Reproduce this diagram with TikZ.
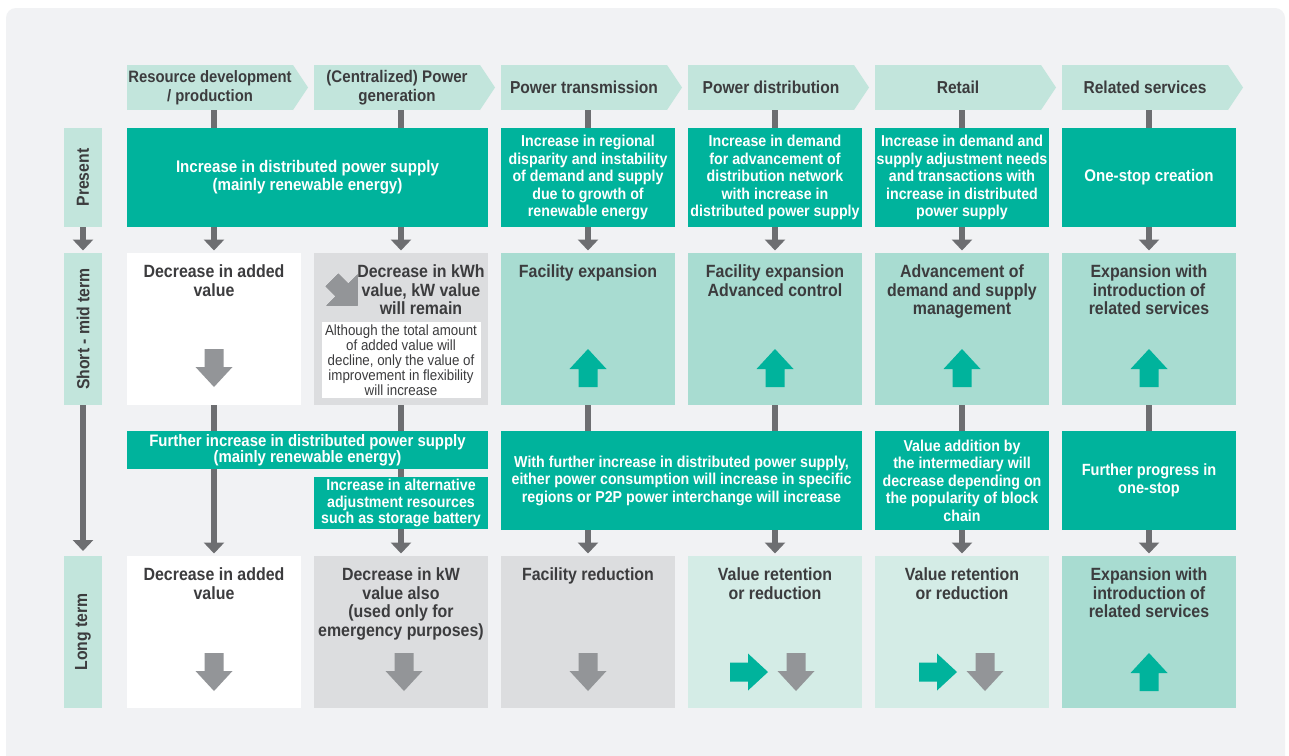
\documentclass[tikz,border=0pt]{standalone}
\usepackage{fontspec}
\usepackage{graphicx}
\setmainfont{Liberation Sans}[FakeStretch=0.9]
\usetikzlibrary{positioning,arrows.meta}

\definecolor{bggrey}{HTML}{F1F2F4}
\definecolor{mint}{HTML}{C2E5DC}
\definecolor{tealgreen}{HTML}{00B39C}
\definecolor{lightteal}{HTML}{A8DCD1}
\definecolor{paleteal}{HTML}{D4ECE6}
\definecolor{boxgrey}{HTML}{DCDDDF}
\definecolor{linkgrey}{HTML}{6D6E71}
\definecolor{arrgrey}{HTML}{939598}
\definecolor{txtdark}{HTML}{3C3C3E}

% block arrow (points down before rotation)
\newcommand{\blockarrow}[3]{%
  \fill[#1, shift={(#2)}, rotate=#3] (-9.5,-19) -- (-9.5,-1) -- (-18.5,-1) -- (0,19)
    -- (18.5,-1) -- (9.5,-1) -- (9.5,-19) -- cycle;}

\begin{document}
\begin{tikzpicture}[
    x=1pt, y=-1pt,
    node distance=13pt,
    stage/.style={rectangle, fill=mint, text=txtdark, minimum width=166pt, minimum height=45pt, inner sep=0pt, outer sep=0pt, align=center, font=\bfseries\fontsize{17.3}{19.2}\selectfont},
    period/.style={rectangle, fill=mint, text=txtdark, minimum width=38pt, inner sep=0pt, outer sep=0pt, font=\bfseries\fontsize{17.5}{19}\selectfont},
    cell/.style={rectangle, minimum width=174pt, inner sep=0pt, outer sep=0pt, align=center},
    tealcell/.style={cell, fill=tealgreen, text=white, font=\bfseries\fontsize{15.8}{17.5}\selectfont},
    tallcell/.style={cell, minimum height=152pt},
    title/.style={inner sep=0pt, align=center, text=txtdark, anchor=north, font=\bfseries\fontsize{17.7}{18.6}\selectfont},
    note/.style={rectangle, fill=white, text=txtdark, minimum width=159pt, minimum height=76pt, inner sep=0pt, align=center, font=\fontsize{14.8}{15}\selectfont},
    link/.style={draw=linkgrey, line width=5.5pt},
    arr/.style={link, -{Triangle[width=20pt,length=11pt]}, shorten >=2.5pt}
]
    \useasboundingbox (0,0) rectangle (1289,755);
    \fill[white] (0,0) rectangle (1289,755);
    \begin{scope}
        \clip (0,0) rectangle (1289,755);
        \fill[bggrey, rounded corners=10pt] (6,8) rectangle (1285,780);
    \end{scope}

    % Value chain stages
    \node [stage, anchor=north west, font=\bfseries\fontsize{16.5}{19.2}\selectfont] (h1) at (127,65) {Resource development\\/ production};
    \node [stage, anchor=north west, font=\bfseries\fontsize{16.8}{19.2}\selectfont] (h2) at (314,65) {(Centralized) Power\\generation};
    \node [stage, anchor=north west] (h3) at (501,65) {Power transmission};
    \node [stage, anchor=north west] (h4) at (688,65) {Power distribution};
    \node [stage, anchor=north west] (h5) at (875,65) {Retail};
    \node [stage, anchor=north west] (h6) at (1062,65) {Related services};
    \foreach \h in {h1,h2,h3,h4,h5,h6}
        \fill[mint] (\h.north east) -- ([xshift=15pt]\h.east) -- (\h.south east) -- cycle;

    % Present
    \node [tealcell, minimum width=361pt, minimum height=99pt, anchor=north west, font=\bfseries\fontsize{16.8}{18}\selectfont] (p12) at (127,128) {Increase in distributed power supply\\(mainly renewable energy)};
    \node [tealcell, minimum height=99pt, anchor=north west] (p3) at (501,128) {Increase in regional\\disparity and instability\\of demand and supply\\due to growth of\\renewable energy};
    \node [tealcell, minimum height=99pt, anchor=north west] (p4) at (688,128) {Increase in demand\\for advancement of\\distribution network\\with increase in\\distributed power supply};
    \node [tealcell, minimum height=99pt, anchor=north west] (p5) at (875,128) {Increase in demand and\\supply adjustment needs\\and transactions with\\increase in distributed\\power supply};
    \node [tealcell, minimum height=99pt, anchor=north west, font=\bfseries\fontsize{16.8}{18}\selectfont] (p6) at (1062,128) {One-stop creation};

    % Short - mid term
    \node [tallcell, fill=white, anchor=north west] (s1) at (127,253) {};
    \node [tallcell, fill=boxgrey, right=of s1] (s2) {};
    \node [tallcell, fill=lightteal, right=of s2] (s3) {};
    \node [tallcell, fill=lightteal, right=of s3] (s4) {};
    \node [tallcell, fill=lightteal, right=of s4] (s5) {};
    \node [tallcell, fill=lightteal, right=of s5] (s6) {};
    \node [title] (s1t) at ([yshift=-11.5pt]s1.north) {Decrease in added\\value};
    \node [title] (s2t) at ([xshift=20pt, yshift=-11.5pt]s2.north) {Decrease in kWh\\value, kW value\\will remain};
    \node [note] (s2n) at ([yshift=45pt]s2.south) {Although the total amount\\of added value will\\decline, only the value of\\improvement in flexibility\\will increase};
    \node [title] (s3t) at ([yshift=-11.5pt]s3.north) {Facility expansion};
    \node [title] (s4t) at ([yshift=-11.5pt]s4.north) {Facility expansion\\Advanced control};
    \node [title] (s5t) at ([yshift=-11.5pt]s5.north) {Advancement of\\demand and supply\\management};
    \node [title] (s6t) at ([yshift=-11.5pt]s6.north) {Expansion with\\introduction of\\related services};

    % Changes towards long term
    \node [tealcell, minimum width=361pt, minimum height=38pt, anchor=north west, font=\bfseries\fontsize{16.6}{16.5}\selectfont] (f12) at (127,431) {Further increase in distributed power supply\\(mainly renewable energy)};
    \node [tealcell, minimum height=52pt, anchor=north west, font=\bfseries\fontsize{15.8}{16.2}\selectfont] (a2) at (314,477) {Increase in alternative\\adjustment resources\\such as storage battery};
    \node [tealcell, minimum width=361pt, minimum height=99pt, anchor=north west] (w34) at (501,431) {With further increase in distributed power supply,\\either power consumption will increase in specific\\regions or P2P power interchange will increase};
    \node [tealcell, minimum height=99pt, below=26pt of s5] (v5) {Value addition by\\the intermediary will\\decrease depending on\\the popularity of block\\chain};
    \node [tealcell, minimum height=99pt, below=26pt of s6, font=\bfseries\fontsize{16.2}{18}\selectfont] (g6) {Further progress in\\one-stop};

    % Long term
    \node [tallcell, fill=white, anchor=north west] (l1) at (127,556) {};
    \node [tallcell, fill=boxgrey, right=of l1] (l2) {};
    \node [tallcell, fill=boxgrey, right=of l2] (l3) {};
    \node [tallcell, fill=paleteal, right=of l3] (l4) {};
    \node [tallcell, fill=paleteal, right=of l4] (l5) {};
    \node [tallcell, fill=lightteal, right=of l5] (l6) {};
    \node [title] (l1t) at ([yshift=-11.5pt]l1.north) {Decrease in added\\value};
    \node [title] (l2t) at ([yshift=-11.5pt]l2.north) {Decrease in kW\\value also\\(used only for\\emergency purposes)};
    \node [title] (l3t) at ([yshift=-11.5pt]l3.north) {Facility reduction};
    \node [title] (l4t) at ([yshift=-11.5pt]l4.north) {Value retention\\or reduction};
    \node [title] (l5t) at ([yshift=-11.5pt]l5.north) {Value retention\\or reduction};
    \node [title] (l6t) at ([yshift=-11.5pt]l6.north) {Expansion with\\introduction of\\related services};

    % Time axis
    \node [period, minimum height=99pt, left=25pt of p12] (r1) {\rotatebox{90}{Present}};
    \node [period, minimum height=152pt, left=25pt of s1] (r2) {\rotatebox{90}{Short - mid term}};
    \node [period, minimum height=152pt, left=25pt of l1] (r3) {\rotatebox{90}{Long term}};
    \draw [arr] (r1) -- (r2);
    \draw [arr, shorten >=5pt] (r2) -- (r3);

    % Links
    \draw [link] (s1.north |- h1.south) -- (s1.north |- p12.north);
    \draw [link] (s2.north |- h2.south) -- (s2.north |- p12.north);
    \foreach \c in {3,...,6}
        \draw [link] (s\c.north |- h\c.south) -- (s\c.north |- p\c.north);
    \draw [arr] (s1.north |- p12.south) -- (s1.north);
    \draw [arr] (s2.north |- p12.south) -- (s2.north);
    \foreach \c in {3,...,6}
        \draw [arr] (s\c.north |- p\c.south) -- (s\c.north);
    \draw [link] (s1.south) -- (s1.south |- f12.north);
    \draw [link] (s2.south) -- (s2.south |- f12.north);
    \draw [link] (s2.south |- f12.south) -- (s2.south |- a2.north);
    \draw [link] (s3.south) -- (s3.south |- w34.north);
    \draw [link] (s4.south) -- (s4.south |- w34.north);
    \draw [link] (s5.south) -- (v5.north);
    \draw [link] (s6.south) -- (g6.north);
    \draw [arr] (l1.north |- f12.south) -- (l1.north);
    \draw [arr] (l2.north |- a2.south) -- (l2.north);
    \draw [arr] (l3.north |- w34.south) -- (l3.north);
    \draw [arr] (l4.north |- w34.south) -- (l4.north);
    \draw [arr] (l5.north |- v5.south) -- (l5.north);
    \draw [arr] (l6.north |- g6.south) -- (l6.north);

    % Trend arrows
    \blockarrow{arrgrey}{214,368}{0}
    \foreach \x in {588,775,962,1149}
        \blockarrow{tealgreen}{\x,368}{180}
    \fill[arrgrey, shift={(342,290)}, rotate=45] (-9,-14) -- (-9,0) -- (-22,0) -- (0,22) -- (22,0) -- (9,0) -- (9,-14) -- cycle;
    \blockarrow{arrgrey}{214,672}{0}
    \blockarrow{arrgrey}{404,672}{0}
    \blockarrow{arrgrey}{588,672}{0}
    \blockarrow{tealgreen}{749,672}{90}
    \blockarrow{arrgrey}{796,672}{0}
    \blockarrow{tealgreen}{938,672}{90}
    \blockarrow{arrgrey}{985,672}{0}
    \blockarrow{tealgreen}{1149,672}{180}
\end{tikzpicture}
\end{document}
